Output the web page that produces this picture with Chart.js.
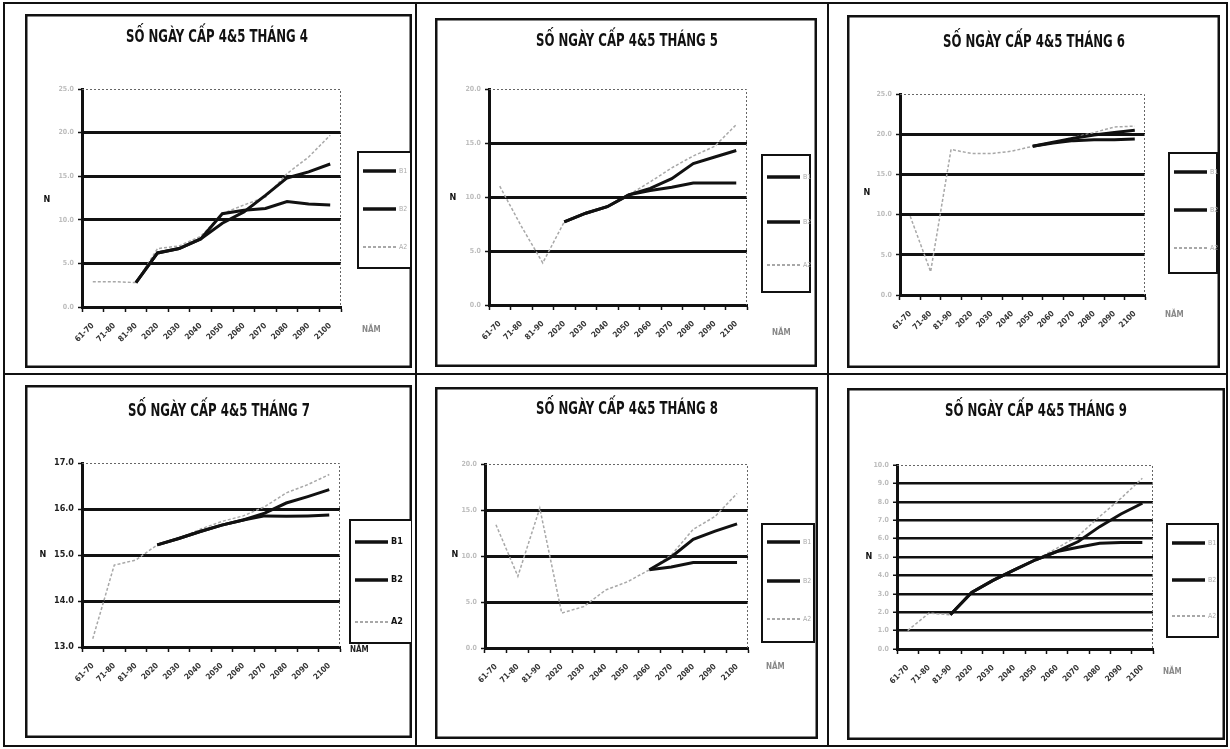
<!DOCTYPE html>
<html>
<head>
<meta charset="utf-8">
<script src="https://cdn.jsdelivr.net/npm/chart.js@4.4.1/dist/chart.umd.min.js"></script>
<style>
  html, body { margin: 0; padding: 0; background: #fff; }
  #page { position: relative; width: 1230px; height: 749px; overflow: hidden; background: #fff; }
  .rule { position: absolute; background: #111; }
  canvas { position: absolute; }
</style>
</head>
<body>
<div id="page"></div>
<script>
// ---- categories and scenario names ----
const categories = ['61-70', '71-80', '81-90', '2020', '2030', '2040', '2050', '2060', '2070', '2080', '2090', '2100'];
const seriesNames = ['B1', 'B2', 'A2'];

// ---- April ----
const aprTicks = [0, 5, 10, 15, 20, 25];
const aprB1 = [null, null, 2.8, 6.2, 6.7, 7.8, 10.7, 11.1, 11.3, 12.1, 11.8, 11.7];
const aprB2 = [null, null, 2.8, 6.2, 6.7, 7.8, 9.6, 10.9, 12.8, 14.8, 15.5, 16.4];
const aprA2 = [2.9, 2.9, 2.8, 6.7, 7.0, 8.1, 10.7, 11.7, 12.6, 15.3, 17.2, 19.7];

// ---- May ----
const mayTicks = [0, 5, 10, 15, 20];
const mayB1 = [null, null, null, 7.7, 8.5, 9.1, 10.2, 10.6, 10.9, 11.3, 11.3, 11.3];
const mayB2 = [null, null, null, 7.7, 8.5, 9.1, 10.2, 10.8, 11.7, 13.1, 13.7, 14.3];
const mayA2 = [11.0, 7.3, 3.9, 7.7, 8.5, 9.1, 10.2, 11.4, 12.7, 13.8, 14.7, 16.7];

// ---- June ----
const junTicks = [0, 5, 10, 15, 20, 25];
const junB1 = [null, null, null, null, null, null, 18.5, 18.9, 19.2, 19.3, 19.3, 19.4];
const junB2 = [null, null, null, null, null, null, 18.5, 19.0, 19.5, 19.9, 20.2, 20.5];
const junA2 = [9.8, 2.9, 18.1, 17.6, 17.6, 17.9, 18.5, 19.0, 19.6, 20.2, 20.9, 21.0];

// ---- July ----
const julTicks = [13, 14, 15, 16, 17];
const julB1 = [null, null, null, 15.22, 15.36, 15.51, 15.65, 15.76, 15.85, 15.84, 15.85, 15.87];
const julB2 = [null, null, null, 15.22, 15.36, 15.51, 15.65, 15.76, 15.91, 16.13, 16.27, 16.42];
const julA2 = [13.18, 14.78, 14.89, 15.22, 15.36, 15.56, 15.73, 15.85, 16.05, 16.35, 16.53, 16.75];

// ---- August ----
const augTicks = [0, 5, 10, 15, 20];
const augB1 = [null, null, null, null, null, null, null, 8.5, 8.8, 9.3, 9.3, 9.3];
const augB2 = [null, null, null, null, null, null, null, 8.5, 9.9, 11.8, 12.7, 13.5];
const augA2 = [13.4, 7.8, 15.2, 3.8, 4.5, 6.3, 7.2, 8.5, 10.1, 12.9, 14.3, 16.8];

// ---- September ----
const sepTicks = [0, 1, 2, 3, 4, 5, 6, 7, 8, 9, 10];
const sepB1 = [null, null, 1.86, 3.07, 3.73, 4.30, 4.85, 5.30, 5.53, 5.75, 5.79, 5.79];
const sepB2 = [null, null, 1.86, 3.07, 3.73, 4.30, 4.85, 5.30, 5.84, 6.65, 7.34, 7.92];
const sepA2 = [1.0, 1.95, 1.86, 3.07, 3.73, 4.30, 4.85, 5.48, 6.15, 7.2, 8.19, 9.28];

const titles = ['SỐ NGÀY CẤP 4&5 THÁNG 4', 'SỐ NGÀY CẤP 4&5 THÁNG 5', 'SỐ NGÀY CẤP 4&5 THÁNG 6',
                'SỐ NGÀY CẤP 4&5 THÁNG 7', 'SỐ NGÀY CẤP 4&5 THÁNG 8', 'SỐ NGÀY CẤP 4&5 THÁNG 9'];
const yTitle = 'N';
const xTitle = 'NĂM';

// ---- page layout (frame box, plot box, legend box, label anchors) ----
const panels = [
  { title: titles[0], ticks: aprTicks, data: [aprB1, aprB2, aprA2], frame: [25, 14, 412, 368], plot: [82, 89, 341, 307],
    legend: [358, 152, 411, 268], legendRows: [19, 57, 95], titleAt: [217, 38], yAt: [47, 200], xAt: [362, 330], grid: 3, strong: false },
  { title: titles[1], ticks: mayTicks, data: [mayB1, mayB2, mayA2], frame: [435, 18, 817, 367], plot: [489, 89, 747, 305],
    legend: [762, 155, 810, 292], legendRows: [22, 67, 110], titleAt: [627, 42], yAt: [453, 198], xAt: [772, 333], grid: 3, strong: false },
  { title: titles[2], ticks: junTicks, data: [junB1, junB2, junA2], frame: [847, 15, 1220, 368], plot: [900, 94, 1145, 295],
    legend: [1169, 153, 1217, 273], legendRows: [19, 57, 95], titleAt: [1034, 43], yAt: [867, 193], xAt: [1165, 315], grid: 3, strong: false },
  { title: titles[3], ticks: julTicks, data: [julB1, julB2, julA2], frame: [25, 385, 412, 738], plot: [82, 463, 340, 647],
    legend: [350, 520, 412, 643], legendRows: [22, 60, 102], titleAt: [219, 412], yAt: [43, 555], xAt: [350, 650], grid: 3, strong: true },
  { title: titles[4], ticks: augTicks, data: [augB1, augB2, augA2], frame: [435, 387, 818, 739], plot: [485, 464, 748, 648],
    legend: [762, 524, 814, 642], legendRows: [18, 57, 95], titleAt: [627, 410], yAt: [455, 555], xAt: [766, 667], grid: 3, strong: false },
  { title: titles[5], ticks: sepTicks, data: [sepB1, sepB2, sepA2], frame: [847, 388, 1225, 740], plot: [897, 465, 1153, 649],
    legend: [1167, 524, 1218, 637], legendRows: [19, 56, 92], titleAt: [1036, 412], yAt: [869, 557], xAt: [1163, 672], grid: 2.5, strong: false }
];

const Y_AXIS_W = 36;
const X_AXIS_H = 50;
const NARROW = '"Liberation Sans Narrow", "DejaVu Sans Condensed", "Liberation Sans", sans-serif';

// ---- page rules (outer border and cell dividers) ----
const page = document.getElementById('page');
function rule(x, y, w, h) {
  const d = document.createElement('div');
  d.className = 'rule';
  Object.assign(d.style, { left: x + 'px', top: y + 'px', width: w + 'px', height: h + 'px' });
  page.appendChild(d);
}
rule(3, 2, 1225, 2);
rule(3, 745, 1225, 2);
rule(3, 2, 2, 745);
rule(1226, 2, 2, 745);
rule(3, 373, 1225, 2);
rule(415, 2, 2, 745);
rule(827, 2, 2, 745);

// ---- decorations drawn on each chart: frame, title, axis captions, boxed legend ----
const decor = {
  id: 'decor',
  afterDraw(chart, args, o) {
    const { ctx, chartArea: a } = chart;
    const ox = o.frame[0], oy = o.frame[1];
    ctx.save();
    // dotted upper and right edges of the plot area
    ctx.strokeStyle = '#666';
    ctx.lineWidth = 1;
    ctx.setLineDash([2, 2]);
    ctx.beginPath();
    ctx.moveTo(a.left, a.top + 0.5);
    ctx.lineTo(a.right - 0.5, a.top + 0.5);
    ctx.lineTo(a.right - 0.5, a.bottom);
    ctx.stroke();
    ctx.setLineDash([]);

    // chart frame
    ctx.strokeStyle = '#111';
    ctx.lineWidth = 2.5;
    ctx.strokeRect(1.25, 1.25, chart.width - 2.5, chart.height - 2.5);

    // title, squeezed to a condensed width
    ctx.fillStyle = '#111';
    ctx.font = 'bold 17px ' + NARROW;
    ctx.textAlign = 'center';
    ctx.textBaseline = 'middle';
    const tw = ctx.measureText(o.title).width;
    const target = 182;
    ctx.save();
    ctx.translate(o.titleAt[0] - ox, o.titleAt[1] - oy);
    ctx.scale(Math.min(1, target / tw), 1);
    ctx.fillText(o.title, 0, 0);
    ctx.restore();

    // axis captions
    ctx.font = 'bold 9px ' + NARROW;
    ctx.fillStyle = '#111';
    ctx.fillText(yTitle, o.yAt[0] - ox, o.yAt[1] - oy);
    ctx.fillStyle = o.strong ? '#222' : '#888';
    ctx.font = 'bold 8px ' + NARROW;
    ctx.textAlign = 'left';
    ctx.fillText(xTitle, o.xAt[0] - ox, o.xAt[1] - oy);

    // legend box
    const [lx1, ly1, lx2, ly2] = o.legend.map((v, i) => v - (i % 2 ? oy : ox));
    ctx.strokeStyle = '#111';
    ctx.lineWidth = 2;
    ctx.fillStyle = '#fff';
    ctx.fillRect(lx1, ly1, lx2 - lx1, ly2 - ly1);
    ctx.strokeRect(lx1, ly1, lx2 - lx1, ly2 - ly1);
    chart.data.datasets.forEach((ds, i) => {
      const y = ly1 + o.legendRows[i];
      ctx.save();
      ctx.strokeStyle = ds.borderColor;
      ctx.lineWidth = ds.borderWidth + 0.5;
      ctx.setLineDash(ds.borderDash || []);
      ctx.beginPath();
      ctx.moveTo(lx1 + 5, y);
      ctx.lineTo(lx1 + 38, y);
      ctx.stroke();
      ctx.restore();
      ctx.fillStyle = o.strong ? '#111' : '#aaa';
      ctx.font = (o.strong ? 'bold 9px ' : '7px ') + NARROW;
      ctx.textAlign = 'left';
      ctx.textBaseline = 'middle';
      ctx.fillText(ds.label, lx1 + 41, y);
    });
    ctx.restore();
  }
};

function makeChart(p) {
  const [fx1, fy1, fx2, fy2] = p.frame;
  const [px1, py1, px2, py2] = p.plot;
  const w = fx2 - fx1, h = fy2 - fy1;
  const cv = document.createElement('canvas');
  cv.width = w; cv.height = h;
  cv.style.left = fx1 + 'px';
  cv.style.top = fy1 + 'px';
  cv.style.width = w + 'px';
  cv.style.height = h + 'px';
  page.appendChild(cv);

  const yMin = p.ticks[0], yMax = p.ticks[p.ticks.length - 1];
  const dark = '#111';
  const light = '#a8a8a8';

  new Chart(cv.getContext('2d'), {
    type: 'line',
    data: {
      labels: categories,
      datasets: [
        { label: seriesNames[0], data: p.data[0], borderColor: dark, borderWidth: 3, pointRadius: 0, tension: 0 },
        { label: seriesNames[1], data: p.data[1], borderColor: dark, borderWidth: 3, pointRadius: 0, tension: 0 },
        { label: seriesNames[2], data: p.data[2], borderColor: light, borderWidth: 1.5, borderDash: [3, 2], pointRadius: 0, tension: 0 }
      ]
    },
    options: {
      responsive: false,
      animation: false,
      devicePixelRatio: 1,
      layout: {
        padding: {
          left: px1 - fx1 - Y_AXIS_W,
          top: py1 - fy1,
          right: fx2 - px2,
          bottom: fy2 - py2 - X_AXIS_H
        }
      },
      plugins: {
        legend: { display: false },
        title: { display: false },
        tooltip: { enabled: false },
        decor: p
      },
      scales: {
        x: {
          type: 'category',
          offset: true,
          grid: { display: true, drawOnChartArea: false, drawTicks: true, tickLength: 5, tickColor: '#111', tickWidth: 1.5, offset: true },
          border: { display: true, color: '#111', width: 3 },
          ticks: {
            autoSkip: false, minRotation: 45, maxRotation: 45, padding: 9,
            color: '#333', font: { family: NARROW, size: 8, weight: 'bold' }
          },
          afterFit: s => { s.height = X_AXIS_H; }
        },
        y: {
          min: yMin, max: yMax,
          afterBuildTicks: s => { s.ticks = p.ticks.map(v => ({ value: v })); },
          grid: {
            color: c => (c.tick && (c.tick.value === yMax || c.tick.value === yMin)) ? 'rgba(0,0,0,0)' : '#111',
            lineWidth: p.grid,
            drawTicks: true, tickLength: 4, tickColor: '#111', tickWidth: 1.5
          },
          border: { display: true, color: '#111', width: 3 },
          ticks: {
            padding: 4,
            color: p.strong ? '#222' : '#bdbdbd',
            font: { family: NARROW, size: p.strong ? 9 : 7, weight: 'bold' },
            callback: v => Number(v).toFixed(1)
          },
          afterFit: s => { s.width = Y_AXIS_W; }
        }
      }
    },
    plugins: [decor]
  });
}

panels.forEach(makeChart);
</script>
</body>
</html>
